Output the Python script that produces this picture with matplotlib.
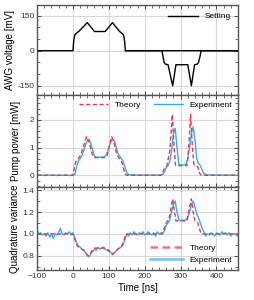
import matplotlib
matplotlib.use("Agg")
import matplotlib.pyplot as plt
from matplotlib.ticker import MultipleLocator, FormatStrFormatter

plt.rcParams['font.family'] = ['Liberation Sans', 'DejaVu Sans']

# ---- data ----
set_t = [-100, 0, 2, 5, 10, 16, 40, 60, 90, 110, 130, 136, 141, 144, 146, 460]
set_v = [0, 0, 40, 68, 75, 82, 120, 82, 82, 120, 82, 75, 68, 40, 0, 0]
set_t2 = [146, 248, 251, 254, 258, 265, 278, 287, 320, 330, 339, 346, 350, 354, 357, 460]
set_v2 = [0, 0, -25, -50, -58, -60, -150, -60, -60, -150, -60, -58, -50, -25, 0, 0]

th_p_t = [-100, 0, 3, 8, 15, 22, 38, 45, 55, 60, 90, 95, 108, 115, 122, 130, 137, 142, 147, 150,
          245, 250, 255, 262, 270, 277, 282, 286, 318, 322, 328, 333, 337, 343, 348, 352, 357, 460]
th_p_v = [0, 0, 0.2, 0.5, 0.6, 0.75, 1.4, 1.2, 0.7, 0.64, 0.64, 0.7, 1.4, 1.15, 0.75, 0.6, 0.45, 0.2, 0.02, 0,
          0, 0.1, 0.25, 0.35, 0.9, 2.2, 1.0, 0.35, 0.35, 0.9, 2.2, 1.0, 0.4, 0.35, 0.3, 0.1, 0, 0]

exp_t = list(range(-100, 461, 5))
exp_p = [0.01, 0.0, 0.01, 0.0, -0.01, 0.01, 0.0, 0.01, 0.0, 0.0, 0.01, -0.01, 0.0, 0.01, 0.0, 0.0, 0.01, 0.0, -0.01, 0.0,
         0.0, 0.02, 0.3, 0.52, 0.6, 0.72, 0.9, 1.1, 1.25, 1.3, 1.15, 0.9, 0.7, 0.65, 0.65, 0.66, 0.65, 0.66, 0.7, 0.8,
         1.0, 1.2, 1.3, 1.25, 1.05, 0.8, 0.7, 0.6, 0.5, 0.3, 0.08, 0.03, 0.02, 0.01, 0.02, 0.01, 0.0, 0.01, 0.0, 0.01,
         0.0, 0.01, 0.0, 0.01, 0.0, 0.0, 0.01, 0.0, 0.0, 0.0, 0.03, 0.12, 0.28, 0.35, 0.5, 0.9, 1.5, 1.7, 1.0, 0.4,
         0.38, 0.37, 0.38, 0.4, 0.6, 1.0, 1.5, 1.75, 1.3, 0.6, 0.42, 0.35, 0.2, 0.06, 0.03, 0.02, 0.01, 0.02, 0.0, 0.01,
         0.0, 0.01, 0.0, 0.01, 0.0, 0.01, 0.0, 0.0, 0.01, 0.0, 0.01, 0.0, 0.0]

th_q_t = [-100, 0, 5, 12, 20, 30, 42, 48, 58, 90, 100, 110, 118, 128, 138, 143, 148,
          248, 253, 260, 268, 278, 283, 287, 318, 322, 330, 335, 340, 348, 353, 358, 460]
th_q_v = [1.0, 1.0, 0.95, 0.89, 0.87, 0.85, 0.8, 0.82, 0.87, 0.87, 0.85, 0.81, 0.84, 0.87, 0.9, 0.95, 1.0,
          1.0, 1.04, 1.1, 1.14, 1.32, 1.2, 1.12, 1.12, 1.2, 1.32, 1.2, 1.12, 1.1, 1.04, 1.0, 1.0]

exp_q = [1.03, 1.0, 1.01, 0.99, 1.0, 0.98, 1.01, 0.97, 1.0, 0.96, 1.0, 0.99, 1.01, 1.05, 1.0, 0.99, 1.01, 1.0, 1.02, 0.99,
         1.01, 0.97, 0.92, 0.89, 0.88, 0.86, 0.85, 0.83, 0.8, 0.79, 0.82, 0.84, 0.86, 0.85, 0.88, 0.86, 0.87, 0.88, 0.86, 0.85,
         0.84, 0.83, 0.82, 0.83, 0.84, 0.86, 0.87, 0.88, 0.9, 0.95, 1.0, 0.98, 1.01, 0.99, 1.02, 1.0, 0.99, 1.01, 1.0, 1.02,
         0.99, 1.0, 1.02, 1.0, 0.99, 1.01, 0.98, 1.02, 1.0, 1.01, 1.0, 1.03, 1.08, 1.1, 1.13, 1.2, 1.27, 1.3, 1.2, 1.13,
         1.12, 1.13, 1.12, 1.13, 1.15, 1.2, 1.27, 1.3, 1.25, 1.18, 1.15, 1.1, 1.05, 1.02, 0.98, 1.0, 0.99, 1.01, 1.0, 0.98,
         1.01, 1.0, 0.99, 1.02, 1.0, 1.01, 0.99, 1.01, 0.98, 1.0, 1.0, 0.99, 0.98]

RED = '#e8384f'
BLUE = '#33aee8'

fig = plt.figure(figsize=(2.54, 3.0), dpi=100)
L, W = 0.146, 0.791
ax1 = fig.add_axes([L, 0.683, W, 0.300])
ax2 = fig.add_axes([L, 0.377, W, 0.306])
ax3 = fig.add_axes([L, 0.100, W, 0.277])

for ax in (ax1, ax2, ax3):
    ax.set_xlim(-100, 460)
    ax.xaxis.set_major_locator(MultipleLocator(100))
    ax.xaxis.set_minor_locator(MultipleLocator(20))
    ax.grid(True, which='major', color='#d8d8d8', lw=0.8)
    ax.set_axisbelow(True)
    ax.tick_params(which='both', direction='in', top=True, right=True, labelsize=6, colors='#333333', pad=2)
    ax.tick_params(which='major', length=3, width=0.6)
    ax.tick_params(which='minor', length=2, width=0.5)
    for s in ax.spines.values():
        s.set_color('#555555')
        s.set_linewidth(1.0)

ax1.plot(set_t, set_v, color='black', lw=1.0, label='Setting')
ax1.plot(set_t2, set_v2, color='black', lw=1.0)
ax1.set_ylim(-190, 195)
ax1.set_yticks([-150, 0, 150])
ax1.set_yticklabels(['-150', '0', '150'])
ax1.yaxis.set_minor_locator(MultipleLocator(50))
ax1.set_ylabel('AWG voltage [mV]', fontsize=7, labelpad=2)
ax1.tick_params(labelbottom=False)
ax1.legend(loc='upper right', fontsize=6, frameon=False, handlelength=3.5, borderaxespad=0.5)

ax2.plot(exp_t, exp_p, color=BLUE, lw=1.0, label='Experiment')
ax2.plot(th_p_t, th_p_v, color=RED, lw=1.0, ls=(0, (3, 1.8)), label='Theory')
ax2.set_ylim(-0.42, 2.9)
ax2.set_yticks([0, 1, 2])
ax2.yaxis.set_minor_locator(MultipleLocator(0.2))
ax2.set_ylabel('Pump power [mW]', fontsize=7, labelpad=6)
ax2.tick_params(labelbottom=False)
h, l = ax2.get_legend_handles_labels()
ax2.legend(h[::-1], l[::-1], loc='upper right', ncol=2, fontsize=6, frameon=False,
           handlelength=3.5, columnspacing=1.5, borderaxespad=0.3)

ax3.plot(exp_t, exp_q, color=BLUE, lw=1.0, label='Experiment')
ax3.plot(th_q_t, th_q_v, color=RED, lw=1.0, ls=(0, (3, 1.8)), label='Theory')
ax3.set_ylim(0.67, 1.43)
ax3.set_yticks([0.8, 1.0, 1.2, 1.4])
ax3.yaxis.set_major_formatter(FormatStrFormatter('%.1f'))
ax3.yaxis.set_minor_locator(MultipleLocator(0.1))
ax3.set_ylabel('Quadrature variance', fontsize=7, labelpad=2)
ax3.set_xlabel('Time [ns]', fontsize=7, labelpad=2)
h, l = ax3.get_legend_handles_labels()
leg = ax3.legend(h[::-1], l[::-1], loc='lower right', fontsize=6, frameon=False,
                 handlelength=4, borderaxespad=0.3)
for line in leg.get_lines():
    line.set_linewidth(1.8)
    line.set_alpha(0.7)

fig.savefig('out.png', dpi=100)
